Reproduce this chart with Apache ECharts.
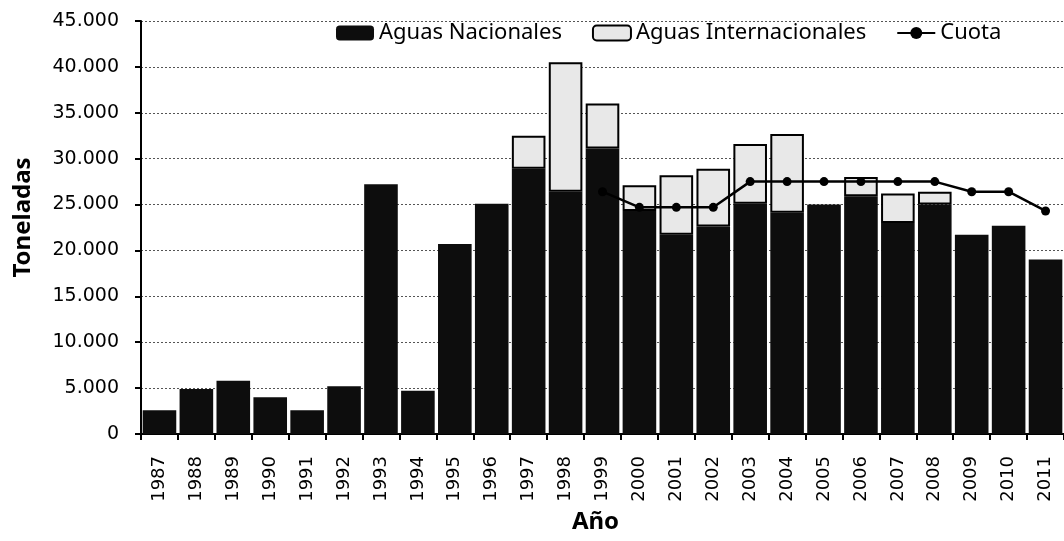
<!DOCTYPE html>
<html>
<head>
<meta charset="utf-8">
<script src="https://cdn.jsdelivr.net/npm/echarts@6/dist/echarts.min.js"></script>
<style>
  html, body { margin: 0; padding: 0; background: #fff; }
  #chart-box { width: 1064px; height: 541px; }
</style>
</head>
<body>
<div id="chart-box"></div>
<script>
var years = ['1987', '1988', '1989', '1990', '1991', '1992', '1993', '1994', '1995', '1996', '1997', '1998',
    '1999', '2000', '2001', '2002', '2003', '2004', '2005', '2006', '2007', '2008', '2009', '2010', '2011'];

// toneladas
var nacionales = [2600, 4900, 5800, 4000, 2600, 5200, 27200, 4700, 20700, 25100, 28900, 26400,
    31100, 24300, 21700, 22600, 25100, 24100, 25000, 25900, 23000, 25000, 21700, 22700, 19000];
var internacionales = [0, 0, 0, 0, 0, 0, 0, 0, 0, 0, 3600, 14100,
    4900, 2800, 6500, 6300, 6500, 8600, 0, 2100, 3200, 1400, 0, 0, 0];
var cuota = [null, null, null, null, null, null, null, null, null, null, null, null,
    26400, 24700, 24700, 24700, 27500, 27500, 27500, 27500, 27500, 27500, 26400, 26400, 24300];

var yTicks = [0, 5000, 10000, 15000, 20000, 25000, 30000, 35000, 40000, 45000];

var fmt = function (v) {
    return String(v).replace(/\B(?=(\d{3})+(?!\d))/g, '.');
};

var myChart = echarts.init(document.getElementById('chart-box'));

var option = {
    animation: false,
    textStyle: { fontFamily: 'DejaVu Sans' },
    legend: {
        top: 17,
        left: 331,
        itemGap: 30,
        itemWidth: 38,
        itemHeight: 15,
        textStyle: { fontFamily: 'Noto Sans', fontSize: 22, color: '#000' },
        data: ['Aguas Nacionales', 'Aguas Internacionales', 'Cuota']
    },
    grid: {
        left: 141,
        right: -10,
        top: 21,
        bottom: 107,
        containLabel: false
    },
    xAxis: {
        type: 'category',
        data: years,
        name: 'Año',
        nameLocation: 'middle',
        nameGap: 74,
        nameTextStyle: { fontFamily: 'Noto Sans', fontWeight: 'bold', fontSize: 24, color: '#000', padding: [0, 14, 0, 0] },
        axisLine: { lineStyle: { color: '#000', width: 2 } },
        axisTick: { show: true, length: 6, lineStyle: { color: '#000', width: 2 } },
        axisLabel: { rotate: 90, fontSize: 18, color: '#000', margin: 22 }
    },
    yAxis: {
        type: 'value',
        min: 0,
        max: yTicks[yTicks.length - 1],
        interval: 5000,
        name: 'Toneladas',
        nameLocation: 'middle',
        nameGap: 106,
        nameTextStyle: { fontFamily: 'Noto Sans', fontWeight: 'bold', fontSize: 24, color: '#000', padding: [0, 0, 0, 20] },
        axisLine: { show: true, lineStyle: { color: '#000', width: 2 } },
        axisTick: { show: true, length: 6, lineStyle: { color: '#000', width: 2 } },
        axisLabel: {
            fontSize: 19,
            color: '#000',
            margin: 22,
            formatter: function (v) { return fmt(v); }
        },
        splitLine: { lineStyle: { color: '#555', type: [2, 2], width: 1 } }
    },
    series: [{
        name: 'Aguas Nacionales',
        type: 'bar',
        stack: 'total',
        barCategoryGap: '9%',
        itemStyle: { color: '#0d0d0d' },
        data: nacionales
    }, {
        name: 'Aguas Internacionales',
        type: 'bar',
        stack: 'total',
        itemStyle: { color: '#e8e8e8', borderColor: '#000', borderWidth: 2 },
        data: internacionales.map(function (v) { return v === 0 ? null : v; })
    }, {
        name: 'Cuota',
        type: 'line',
        symbol: 'circle',
        symbolSize: 9,
        connectNulls: false,
        itemStyle: { color: '#000' },
        lineStyle: { color: '#000', width: 2.5 },
        data: cuota,
        z: 5
    }]
};
myChart.setOption(option);
</script>
</body>
</html>
